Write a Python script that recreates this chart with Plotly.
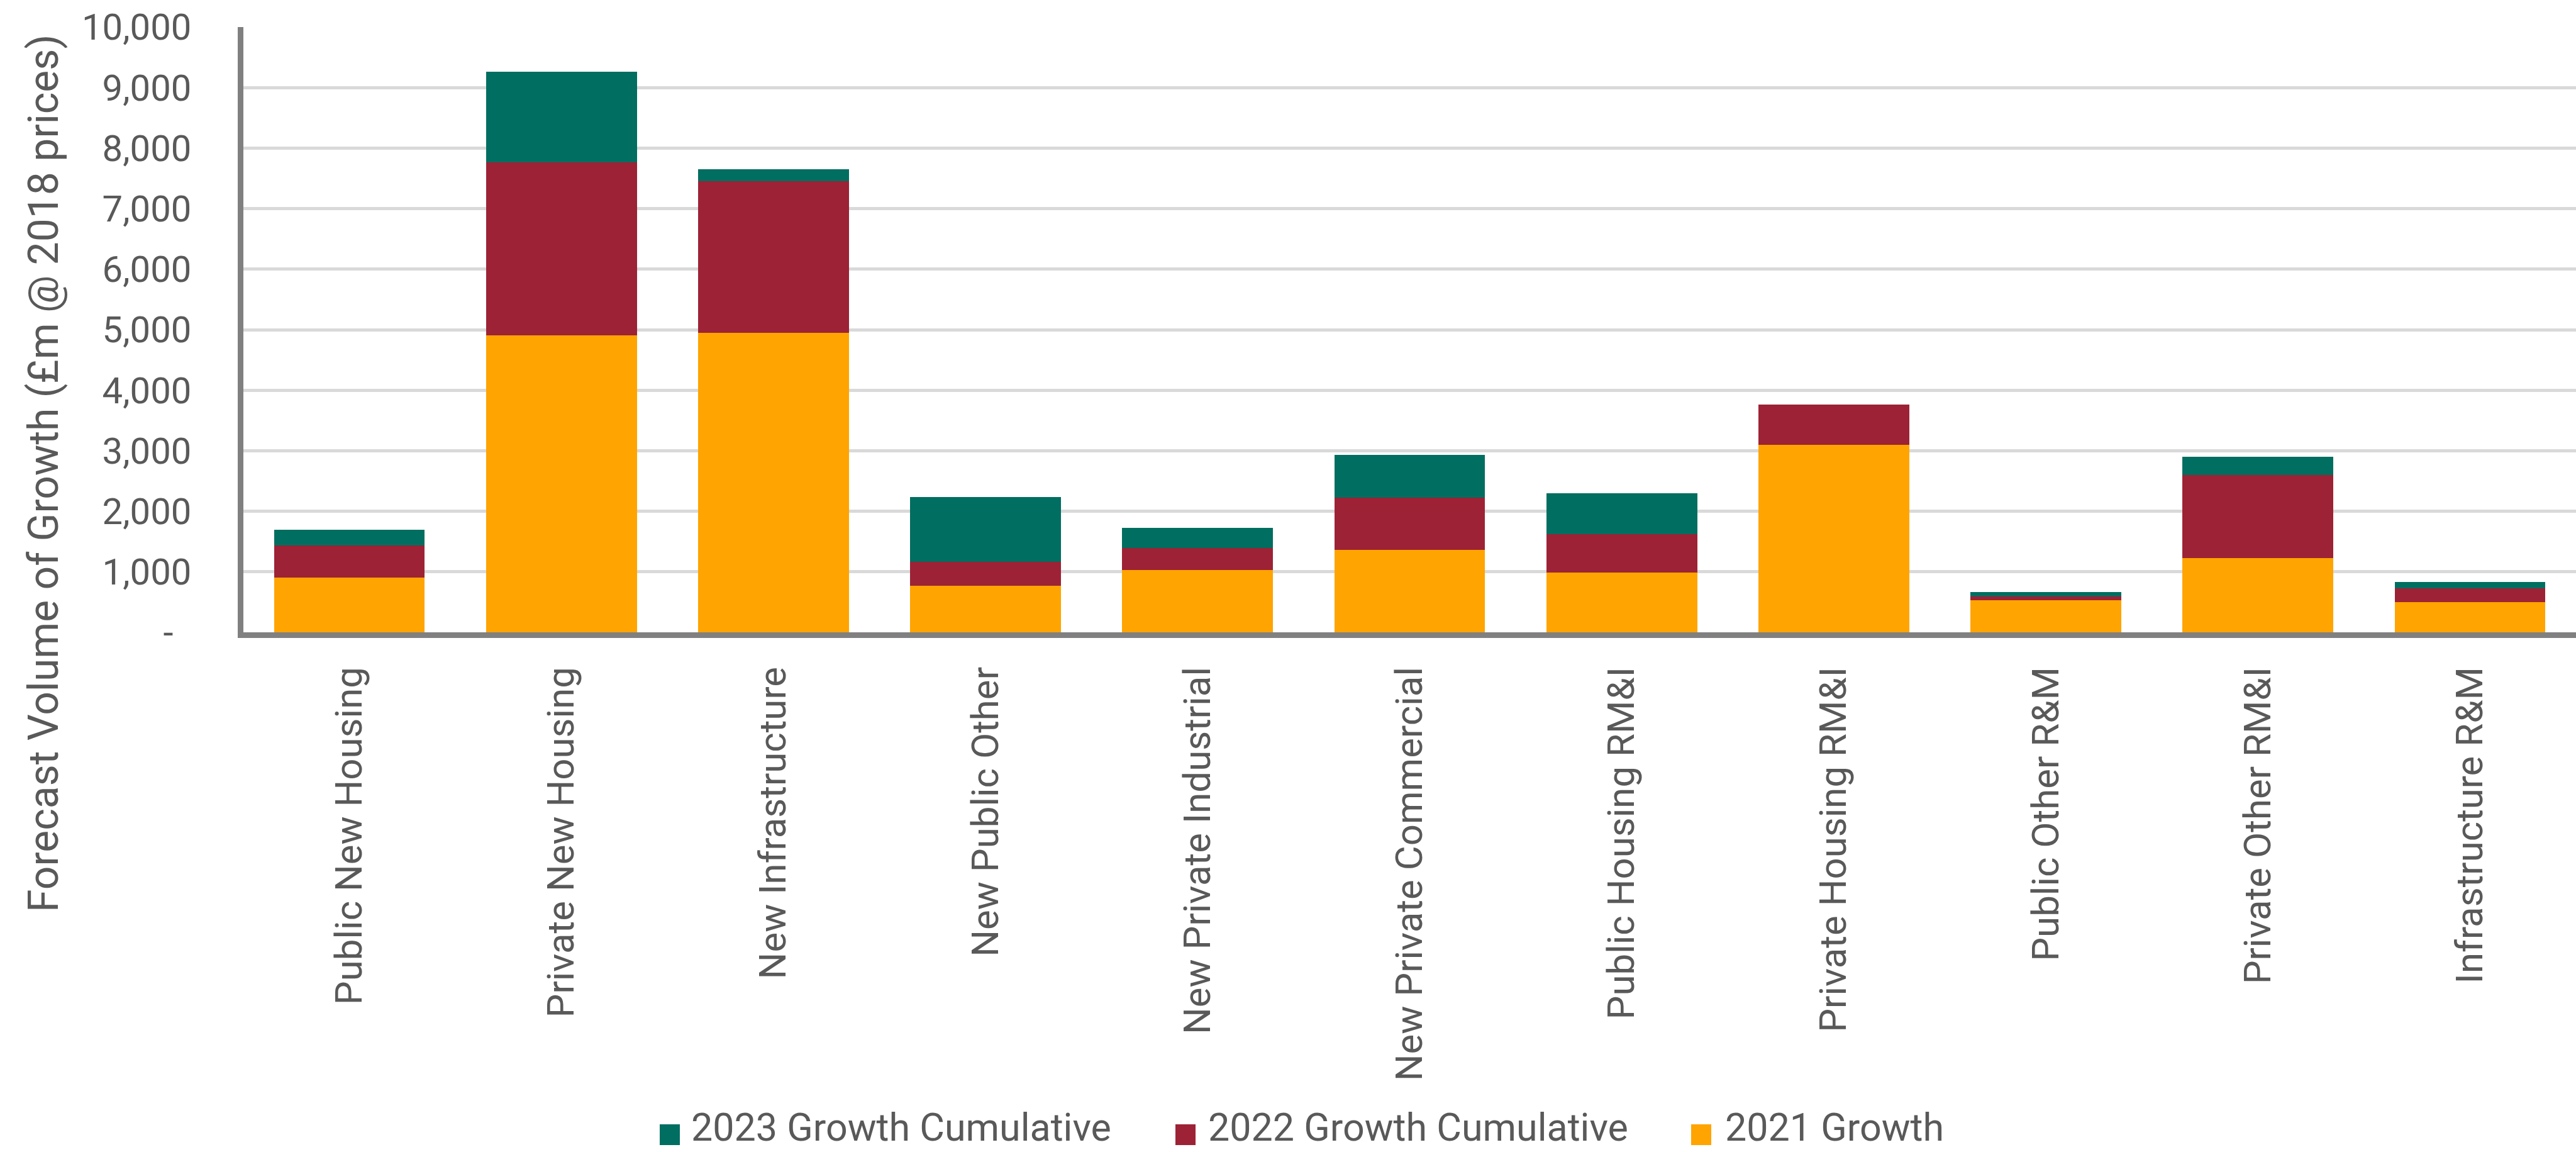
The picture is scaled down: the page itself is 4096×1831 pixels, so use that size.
import plotly.graph_objects as go

# ---------------- data ----------------
categories = [
    "Public New Housing", "Private New Housing", "New Infrastructure",
    "New Public Other", "New Private Industrial", "New Private Commercial",
    "Public Housing RM&I", "Private Housing RM&I", "Public Other R&M",
    "Private Other RM&I", "Infrastructure R&M",
]
growth_2021 = [900, 4910, 4950, 765, 1030, 1360, 990, 3100, 535, 1230, 495]
growth_2022_cum = [530, 2850, 2505, 400, 365, 865, 630, 660, 58, 1365, 235]
growth_2023_cum = [265, 1505, 200, 1065, 330, 710, 680, 0, 75, 305, 100]

series_names = ["2023 Growth Cumulative", "2022 Growth Cumulative", "2021 Growth"]
series_values = [growth_2023_cum, growth_2022_cum, growth_2021]

y_tickvals = [0, 1000, 2000, 3000, 4000, 5000, 6000, 7000, 8000, 9000, 10000]
y_ticktext = ["-\u00a0\u00a0", "1,000", "2,000", "3,000", "4,000", "5,000",
              "6,000", "7,000", "8,000", "9,000", "10,000"]
y_title = "Forecast Volume of Growth (£m @ 2018 prices)"

# ---------------- style ----------------
colors = {"2023 Growth Cumulative": "#006E60",
          "2022 Growth Cumulative": "#9D2235",
          "2021 Growth": "#FFA400"}
TEXT = "#595959"
FONT = "Roboto"
W, H = 4096, 1831
PL, PR, PT, PB = 387, 4096, 43, 1005


def pxx(x):
    return (x - PL) / (PR - PL)


def pxy(y):
    return (PB - y) / (PB - PT)


fig = go.Figure()
# draw bottom to top: 2021, 2022, 2023
for name, vals in zip(series_names[::-1], series_values[::-1]):
    fig.add_trace(go.Bar(x=categories, y=vals, name=name,
                         marker=dict(color=colors[name], line=dict(width=0)),
                         showlegend=False))

fig.update_layout(
    width=W, height=H,
    barmode="stack", bargap=0.289,
    plot_bgcolor="white", paper_bgcolor="white",
    margin=dict(l=PL, r=W - PR, t=PT, b=H - PB, pad=0),
    font=dict(family=FONT, color=TEXT),
    showlegend=False,
)
fig.update_yaxes(
    range=[0, 10000], tickvals=y_tickvals, ticktext=y_ticktext,
    tickfont=dict(family=FONT, size=58, color=TEXT),
    showgrid=True, gridcolor="#D9D9D9", gridwidth=5,
    zeroline=False,
    showline=True, linecolor="#808080", linewidth=9,
    ticks="", ticklabelstandoff=62,
)
fig.update_xaxes(
    tickangle=-90,
    tickfont=dict(family=FONT, size=60, color=TEXT),
    showline=True, linecolor="#808080", linewidth=9,
    ticks="", ticklabelstandoff=22,
    showgrid=False,
)

# y-axis title (positioned like the reference, offset below plot centre)
fig.add_annotation(
    text=y_title, textangle=-90, showarrow=False,
    xref="paper", yref="paper", x=pxx(69), y=pxy(753),
    xanchor="center", yanchor="middle",
    font=dict(family=FONT, size=66, color=TEXT),
)

# custom legend (large colour keys)
legend_marker_x = [1049, 1869, 2689]
legend_text_x = [1097, 1919, 2741]
key_w, key_top, key_bot, text_mid = 32, 1787, 1820, 1792
for name, mx, tx in zip(series_names, legend_marker_x, legend_text_x):
    fig.add_shape(type="rect", xref="paper", yref="paper",
                  x0=pxx(mx), x1=pxx(mx + key_w), y0=pxy(key_bot), y1=pxy(key_top),
                  fillcolor=colors[name], line=dict(width=0))
    fig.add_annotation(text=name, showarrow=False, xref="paper", yref="paper",
                       x=pxx(tx), y=pxy(text_mid), xanchor="left", yanchor="middle",
                       font=dict(family=FONT, size=61, color=TEXT))

fig.write_html("out.html")
